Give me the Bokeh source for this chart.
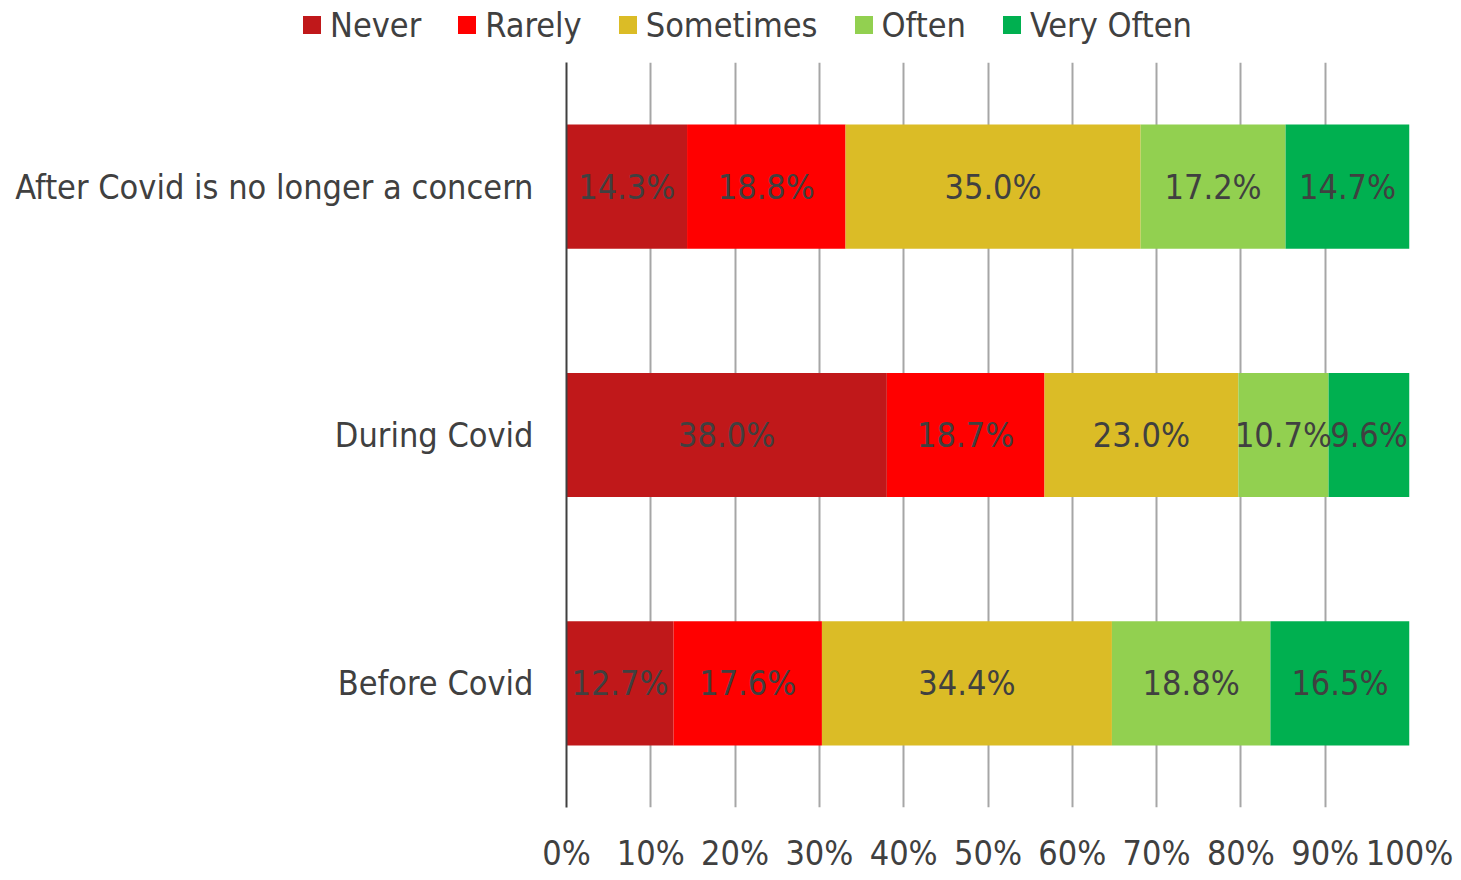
from bokeh.plotting import figure
from bokeh.layouts import column
from bokeh.models import ColumnDataSource, Range1d, FactorRange, FixedTicker, CustomJSTickFormatter, Div
from bokeh.core.properties import value
from bokeh.embed import file_html
from bokeh.resources import INLINE

categories = ["Before Covid", "During Covid", "After Covid is no longer a concern"]
series = ["Never", "Rarely", "Sometimes", "Often", "Very Often"]
never = [12.7, 38.0, 14.3]
rarely = [17.6, 18.7, 18.8]
sometimes = [34.4, 23.0, 35.0]
often = [18.8, 10.7, 17.2]
very_often = [16.5, 9.6, 14.7]
colors = ["#C0181A", "#FF0000", "#DBBC26", "#92D050", "#00B050"]
ticks = [0, 10, 20, 30, 40, 50, 60, 70, 80, 90, 100]

FONT = "DejaVu Sans Condensed"
FS = "34px"

data = {"cat": categories, "Never": never, "Rarely": rarely, "Sometimes": sometimes,
        "Often": often, "Very Often": very_often}
src = ColumnDataSource(data)

p = figure(frame_width=843, frame_height=745, y_range=FactorRange(*categories), x_range=Range1d(0, 100),
           output_backend="svg", toolbar_location=None,
           min_border_left=566, min_border_right=46, min_border_top=0, min_border_bottom=10)
p.outline_line_color = None

p.hbar_stack(series, y="cat", height=0.5, color=colors, source=src, line_color=None)

# labels
vals = [never, rarely, sometimes, often, very_often]
for i in range(len(series)):
    xs, ys, ts = [], [], []
    for j, c in enumerate(categories):
        left = sum(vals[k][j] for k in range(i))
        xs.append(left + vals[i][j] / 2)
        ys.append(c)
        ts.append(f"{vals[i][j]:.1f}%")
    p.text(x=xs, y=ys, text=ts, text_align="center", text_baseline="middle",
           text_font=value(FONT), text_font_size=FS, text_color="#404040")

p.xaxis.ticker = FixedTicker(ticks=ticks)
p.xaxis.formatter = CustomJSTickFormatter(code="return tick + '%';")
p.xaxis.axis_line_color = None
p.xaxis.major_tick_line_color = None
p.xaxis.minor_tick_line_color = None
p.xaxis.major_label_text_font = FONT
p.xaxis.major_label_text_font_size = FS
p.xaxis.major_label_text_color = "#404040"
p.xaxis.major_label_standoff = 19

p.yaxis.axis_line_color = "#404040"
p.yaxis.axis_line_width = 2
p.yaxis.major_tick_line_color = None
p.yaxis.minor_tick_line_color = None
p.yaxis.major_label_text_font = FONT
p.yaxis.major_label_text_font_size = FS
p.yaxis.major_label_text_color = "#404040"
p.yaxis.major_label_standoff = 27

p.xgrid.grid_line_color = "#A6A6A6"
p.xgrid.grid_line_width = 2
p.ygrid.grid_line_color = None

# legend strip on top, built from the series names and colours
items = "".join(
    f'<span style="display:inline-block;width:18px;height:18px;background:{c};'
    f'margin-right:9px;vertical-align:middle;"></span>'
    f'<span style="vertical-align:middle;margin-right:37px;">{s}</span>'
    for s, c in zip(series, colors)
)
legend_html = (
    f'<div style="position:relative;width:1455px;height:62px;font-family:\'{FONT}\';'
    f'font-size:{FS};color:#404040;">'
    f'<div style="position:absolute;left:303px;top:2px;white-space:nowrap;line-height:40px;">'
    f'{items}</div></div>'
)
leg = Div(text=legend_html, width=1455, height=62, margin=0)

open("out.html", "w").write(file_html(column(leg, p, spacing=0), INLINE))
